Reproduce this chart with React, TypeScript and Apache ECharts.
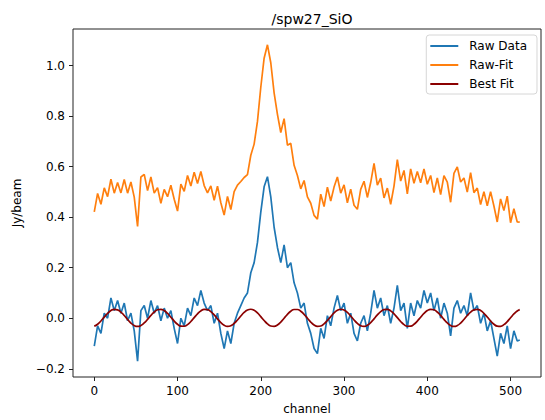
import React, { useEffect, useRef } from "react";
import * as echarts from "echarts";

const TITLE = "/spw27_SiO";
const X_NAME = "channel";
const Y_NAME = "Jy/beam";
const SERIES_NAMES = ["Raw Data", "Raw-Fit", "Best Fit"];
const X_TICKS = [0, 100, 200, 300, 400, 500];
const Y_TICKS = [-0.2, 0, 0.2, 0.4, 0.6, 0.8, 1.0];
const CHANNEL_STEP = 4;
const LAST_CHANNEL = 511;

// sampled every 4 channels (0..508) plus the last channel 511
const rawData = [
  -0.11, -0.03, -0.06, 0.02, 0.0, 0.08, 0.03, 0.07, 0.02, 0.06, -0.01, 0.02, -0.05, -0.17, 0.03, 0.05,
  0.0, 0.07, 0.02, 0.05, -0.01, 0.04, 0.0, 0.03, -0.04, -0.1, 0.0, -0.03, 0.04, 0.01, 0.08, 0.05,
  0.11, 0.06, 0.03, 0.05, -0.02, 0.02, -0.06, -0.12, -0.05, -0.1, -0.02, 0.02, 0.05, 0.08, 0.1, 0.18,
  0.22, 0.3, 0.42, 0.52, 0.56, 0.48, 0.36, 0.28, 0.22, 0.29, 0.2, 0.22, 0.14, 0.1, 0.04, 0.06,
  -0.02, -0.06, -0.12, -0.14, -0.04, -0.08, 0.01, -0.03, 0.04, 0.09, 0.03, 0.06, -0.02, 0.02, -0.06, -0.09,
  -0.02, 0.01, -0.05, 0.02, 0.11, 0.04, 0.08, 0.01, 0.05, -0.02, 0.04, 0.13, 0.03, 0.06, -0.04, 0.06,
  0.01, 0.07, 0.04, 0.11, 0.06, 0.1, 0.03, 0.08, 0.0, 0.06, 0.02, -0.07, 0.04, 0.07, 0.02, 0.05,
  0.01, 0.1, 0.03, 0.05, -0.02, 0.02, -0.05, -0.01, -0.08, -0.15, -0.06, -0.1, -0.03, -0.12, -0.05, -0.09,
  -0.086,
];

const rawMinusFit = [
  0.421, 0.494, 0.451, 0.516, 0.481, 0.55, 0.495, 0.537, 0.496, 0.549, 0.495, 0.539, 0.479, 0.363, 0.559, 0.569,
  0.505, 0.559, 0.495, 0.517, 0.455, 0.51, 0.481, 0.526, 0.471, 0.424, 0.531, 0.502, 0.565, 0.523, 0.578, 0.533,
  0.581, 0.525, 0.496, 0.524, 0.467, 0.523, 0.457, 0.408, 0.482, 0.43, 0.501, 0.527, 0.541, 0.557, 0.568, 0.645,
  0.689, 0.779, 0.914, 1.029, 1.082, 1.011, 0.892, 0.807, 0.735, 0.79, 0.685, 0.692, 0.605, 0.565, 0.512, 0.545,
  0.48, 0.455, 0.407, 0.392, 0.491, 0.442, 0.519, 0.464, 0.519, 0.559, 0.495, 0.528, 0.457, 0.511, 0.447, 0.431,
  0.51, 0.542, 0.478, 0.537, 0.613, 0.527, 0.554, 0.476, 0.515, 0.451, 0.523, 0.628, 0.543, 0.585, 0.492, 0.591,
  0.534, 0.581, 0.536, 0.591, 0.53, 0.565, 0.497, 0.555, 0.489, 0.564, 0.539, 0.459, 0.573, 0.599, 0.539, 0.555,
  0.499, 0.576, 0.497, 0.515, 0.45, 0.501, 0.445, 0.501, 0.444, 0.381, 0.472, 0.426, 0.483, 0.378, 0.433, 0.381,
  0.38,
];

const bestFit = [
  -0.0313, -0.0237, -0.0109, 0.0045, 0.0194, 0.0304, 0.0354, 0.0332, 0.0244, 0.0107, -0.0049, -0.0191, -0.029, -0.0325, -0.0288, -0.0188,
  -0.0045, 0.0111, 0.0247, 0.0333, 0.0353, 0.0302, 0.019, 0.0041, -0.0113, -0.024, -0.0314, -0.0318, -0.0253, -0.0131, 0.0022, 0.0173,
  0.0291, 0.0351, 0.034, 0.0261, 0.013, -0.0025, -0.0172, -0.0279, -0.0324, -0.0298, -0.0206, -0.0068, 0.0088, 0.0229, 0.0324, 0.0355,
  0.0314, 0.021, 0.0065, -0.009, -0.0224, -0.0307, -0.0322, -0.0266, -0.0152, -0.0002, 0.0152, 0.0276, 0.0346, 0.0346, 0.0276, 0.0152,
  -0.0002, -0.0152, -0.0266, -0.0322, -0.0307, -0.0224, -0.009, 0.0065, 0.021, 0.0314, 0.0355, 0.0324, 0.0229, 0.0088, -0.0068, -0.0206,
  -0.0298, -0.0324, -0.0279, -0.0172, -0.0025, 0.013, 0.0261, 0.034, 0.0351, 0.0291, 0.0173, 0.0022, -0.0131, -0.0252, -0.0318, -0.0314,
  -0.024, -0.0113, 0.0041, 0.019, 0.0302, 0.0353, 0.0333, 0.0247, 0.0111, -0.0044, -0.0188, -0.0288, -0.0325, -0.029, -0.0191, -0.0049,
  0.0107, 0.0243, 0.0332, 0.0354, 0.0304, 0.0194, 0.0046, -0.0109, -0.0237, -0.0312, -0.0319, -0.0255, -0.0134, 0.0018, 0.0169, 0.0288,
  0.0341,
];

const COLORS = ["#1f77b4", "#ff7f0e", "#8b0000"];
const FONT = "DejaVu Sans";

function toPairs(values: number[]) {
  return values.map((v, i) => [i === values.length - 1 ? LAST_CHANNEL : i * CHANNEL_STEP, v]);
}

function fmt(v: number) {
  const s = (Math.abs(v) < 1e-9 ? 0 : v).toFixed(1);
  return s.replace("-", "\u2212");
}

export default function App() {
  const ref = useRef<HTMLDivElement>(null);
  useEffect(() => {
    if (!ref.current) return;
    const chart = echarts.init(ref.current, undefined, { renderer: "svg" });
    const allVals = [...rawData, ...rawMinusFit, ...bestFit];
    const yMin0 = Math.min(...allVals);
    const yMax0 = Math.max(...allVals);
    const yPad = (yMax0 - yMin0) * 0.05;
    const xPad = LAST_CHANNEL * 0.05;
    const axisColor = "#222";
    const datasets = [rawData, rawMinusFit, bestFit];
    chart.setOption({
      animation: false,
      backgroundColor: "#fff",
      textStyle: { fontFamily: FONT },
      title: {
        text: TITLE,
        left: 307,
        top: 7,
        textAlign: "center",
        textStyle: { fontFamily: FONT, fontSize: 14, fontWeight: "normal", color: "#000" },
      },
      legend: {
        orient: "vertical",
        right: 8,
        top: 35,
        data: SERIES_NAMES.map((n) => ({ name: n, icon: "rect" })),
        itemWidth: 28,
        itemHeight: 2,
        itemGap: 7,
        padding: [5, 10, 4, 4],
        borderColor: "#d6d6d6",
        borderWidth: 1,
        borderRadius: 3,
        backgroundColor: "rgba(255,255,255,0.8)",
        textStyle: { fontFamily: FONT, fontSize: 12, color: "#000", padding: [0, 0, 0, 6] },
      },
      grid: {
        left: 73,
        right: 4,
        top: 29,
        bottom: 42,
        show: true,
        borderColor: axisColor,
        borderWidth: 1,
        backgroundColor: "transparent",
      },
      xAxis: {
        type: "value",
        min: -xPad,
        max: LAST_CHANNEL + xPad,
        name: X_NAME,
        nameLocation: "middle",
        nameGap: 26,
        nameTextStyle: { fontFamily: FONT, fontSize: 12, color: "#000" },
        axisLine: { show: false, onZero: false },
        axisTick: { show: true, length: 4, lineStyle: { color: axisColor }, customValues: X_TICKS },
        axisLabel: {
          fontFamily: FONT,
          fontSize: 12,
          color: "#000",
          margin: 8,
          customValues: X_TICKS,
          formatter: (v: number) => String(Math.round(v)),
        },
        splitLine: { show: false },
      },
      yAxis: {
        type: "value",
        min: yMin0 - yPad,
        max: yMax0 + yPad,
        name: Y_NAME,
        nameLocation: "middle",
        nameGap: 50,
        nameTextStyle: { fontFamily: FONT, fontSize: 12, color: "#000" },
        axisLine: { show: false, onZero: false },
        axisTick: { show: true, length: 4, lineStyle: { color: axisColor }, customValues: Y_TICKS },
        axisLabel: {
          fontFamily: FONT,
          fontSize: 12,
          color: "#000",
          margin: 8,
          customValues: Y_TICKS,
          formatter: (v: number) => fmt(v),
        },
        splitLine: { show: false },
      },
      series: SERIES_NAMES.map((name, i) => ({
        name,
        type: "line",
        data: toPairs(datasets[i]),
        showSymbol: false,
        symbol: "none",
        smooth: i === 2 ? 0.5 : false,
        color: COLORS[i],
        lineStyle: { color: COLORS[i], width: 1.7 },
        z: 2 + i,
      })),
    });
    return () => chart.dispose();
  }, []);
  return (
    <div
      ref={ref}
      style={{ position: "fixed", left: 0, top: 0, width: 545, height: 420 }}
    />
  );
}
